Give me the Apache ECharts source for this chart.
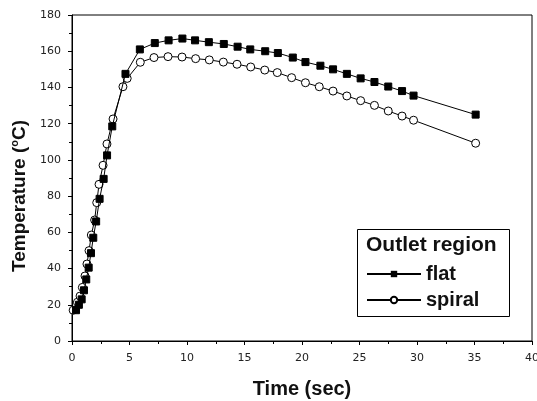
<!DOCTYPE html>
<html>
<head>
<meta charset="utf-8">
<script src="https://cdn.jsdelivr.net/npm/echarts@6/dist/echarts.min.js"></script>
<style>
html, body { margin: 0; padding: 0; background: #fff; }
#chart { width: 537px; height: 401px; }
</style>
</head>
<body>
<div id="chart"></div>
<script>
// flat 出口区域
var flatTime = [0.35, 0.6, 0.84, 1.04, 1.24, 1.45, 1.65, 1.85, 2.1, 2.4, 2.75, 3.05, 3.5, 4.65, 5.9, 7.2, 8.4, 9.6, 10.7, 11.9, 13.2, 14.4, 15.5, 16.8, 17.9, 19.2, 20.3, 21.6, 22.7, 23.9, 25.1, 26.3, 27.5, 28.7, 29.7, 35.1];
var flatTemp = [17, 20, 23, 28, 34, 40.5, 48.5, 57, 66, 78.5, 89.5, 102.5, 118.5, 147.5, 161, 164.5, 166, 167, 166, 165, 164, 162.5, 161, 160, 159, 156.5, 154, 152, 150, 147.5, 145, 143, 140.5, 138, 135.5, 125];
// spiral 出口区域
var spiralTime = [0.1, 0.47, 0.7, 0.9, 1.13, 1.3, 1.48, 1.68, 1.97, 2.15, 2.35, 2.7, 3.04, 3.57, 4.43, 4.8, 5.94, 7.13, 8.35, 9.57, 10.75, 11.94, 13.16, 14.35, 15.54, 16.76, 17.85, 19.1, 20.3, 21.5, 22.7, 23.9, 25.1, 26.3, 27.5, 28.7, 29.7, 35.1];
var spiralTemp = [17, 21.4, 24.8, 29.6, 35.9, 42.5, 49.9, 58.5, 66.8, 76.4, 86.5, 97, 108.8, 122.6, 140.4, 145, 153.9, 156.5, 157, 156.8, 155.9, 155.2, 154, 152.8, 151.3, 149.6, 148.2, 145.4, 142.6, 140.4, 138, 135.3, 132.7, 130.1, 127, 124.2, 121.9, 109.2];

function pairs(xs, ys) {
	var result = [];
	for (var i = 0; i < xs.length; i++) {
		result.push([xs[i], ys[i]]);
	}
	return result;
}

var myChart = echarts.init(document.getElementById('chart'));

var boldFont = 'Liberation Sans, Arial, sans-serif';

option = {
	animation: false,
	grid: {
		left: 72,
		right: 5,
		top: 15,
		bottom: 60,
		outerBoundsMode: 'none',
		show: true,
		borderColor: '#000',
		borderWidth: 1
	},
	legend: {
		data: ['flat', 'spiral'],
		orient: 'vertical',
		left: 361,
		top: 259,
		itemWidth: 54,
		itemHeight: 8,
		itemGap: 6,
		textStyle: { color: '#111', fontSize: 20, fontWeight: 'bold', fontFamily: boldFont }
	},
	graphic: [{
		type: 'rect',
		left: 355,
		top: 227,
		shape: { width: 152, height: 87 },
		style: { fill: 'none', stroke: '#000', lineWidth: 1 }
	}, {
		type: 'text',
		left: 366,
		top: 235,
		style: { text: 'Outlet region', fill: '#111', font: 'bold 21px "Liberation Sans", Arial, sans-serif' }
	}],
	xAxis: {
		type: 'value',
		min: 0,
		max: 40,
		interval: 5,
		name: 'Time (sec)',
		nameLocation: 'middle',
		nameGap: 38,
		nameTextStyle: { color: '#111', fontSize: 20, fontWeight: 'bold', fontFamily: boldFont },
		axisLine: { onZero: false, lineStyle: { color: '#000' } },
		axisTick: { length: 4, lineStyle: { color: '#000' } },
		minorTick: { show: true, splitNumber: 2, length: 3, lineStyle: { color: '#000' } },
		axisLabel: { color: '#222', fontSize: 11, fontFamily: 'DejaVu Sans, sans-serif', margin: 12 },
		splitLine: { show: false }
	},
	yAxis: {
		type: 'value',
		min: 0,
		max: 180,
		interval: 20,
		name: '{a|Temperature (}{s|o}{a|C)}',
		nameLocation: 'middle',
		nameGap: 42,
		nameTextStyle: {
			padding: [0, 36, 0, 0],
			rich: {
				a: { color: '#111', fontSize: 19, fontWeight: 'bold', fontFamily: boldFont },
				s: { color: '#111', fontSize: 11, fontWeight: 'bold', padding: [0, 0, 9, 0], fontFamily: boldFont }
			}
		},
		axisLine: { show: true, lineStyle: { color: '#000' } },
		axisTick: { length: 4, lineStyle: { color: '#000' } },
		minorTick: { show: true, splitNumber: 2, length: 3, lineStyle: { color: '#000' } },
		axisLabel: { color: '#222', fontSize: 11, fontFamily: 'DejaVu Sans, sans-serif', margin: 11 },
		splitLine: { show: false }
	},
	series: [{
		name: 'flat',
		type: 'line',
		data: pairs(flatTime, flatTemp),
		symbol: 'rect',
		symbolSize: 7,
		itemStyle: { color: '#000', borderColor: '#000' },
		lineStyle: { color: '#000', width: 1 },
		z: 3
	}, {
		name: 'spiral',
		type: 'line',
		data: pairs(spiralTime, spiralTemp),
		symbol: 'circle',
		symbolSize: 8,
		itemStyle: { color: '#fff', borderColor: '#000', borderWidth: 1 },
		lineStyle: { color: '#000', width: 1 },
		z: 2
	}]
};

myChart.setOption(option);
</script>
</body>
</html>
